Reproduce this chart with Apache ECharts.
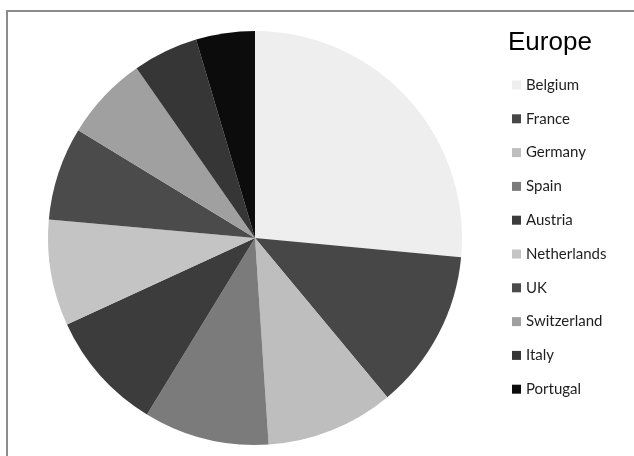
<!DOCTYPE html>
<html>
<head>
<meta charset="utf-8">
<script src="https://cdn.jsdelivr.net/npm/echarts@6/dist/echarts.min.js"></script>
<style>
html,body{margin:0;padding:0;background:#fff;}
#c{width:634px;height:456px;}
</style>
</head>
<body>
<div id="c"></div>
<script>
var countries = ["Belgium","France","Germany","Spain","Austria","Netherlands","UK","Switzerland","Italy","Portugal"];
var values = [26.5, 12.5, 10, 9.8, 9.4, 8.3, 7.3, 6.6, 5.1, 4.6];
var colors = ["#eeeeee","#474747","#bebebe","#7b7b7b","#3c3c3c","#c4c4c4","#4b4b4b","#a0a0a0","#363636","#0c0c0c"];
var titleText = "Europe";

var chart = echarts.init(document.getElementById('c'));
chart.setOption({
  animation: false,
  backgroundColor: '#ffffff',
  color: colors,
  graphic: [{
    type: 'rect',
    shape: {x: 7, y: 11, width: 640, height: 460},
    style: {fill: 'none', stroke: '#8c8c8c', lineWidth: 2},
    silent: true
  }],
  title: {
    text: titleText,
    left: 508,
    top: 30,
    padding: 0,
    textStyle: {fontFamily: 'Liberation Sans', fontSize: 26, fontWeight: 'normal', color: '#000'}
  },
  legend: {
    orient: 'vertical',
    left: 512,
    top: 77,
    padding: 0,
    itemWidth: 9,
    itemHeight: 9,
    itemGap: 17.8,
    icon: 'rect',
    data: countries,
    textStyle: {fontFamily: 'Lato', fontSize: 15, color: '#1e1e1e', lineHeight: 16}
  },
  series: [{
    type: 'pie',
    center: [255, 238],
    radius: [0, 207],
    startAngle: 90,
    clockwise: true,
    label: {show: false},
    labelLine: {show: false},
    itemStyle: {borderWidth: 0},
    emphasis: {disabled: true},
    data: countries.map(function(n, i){ return {name: n, value: values[i]}; })
  }]
});
</script>
</body>
</html>
